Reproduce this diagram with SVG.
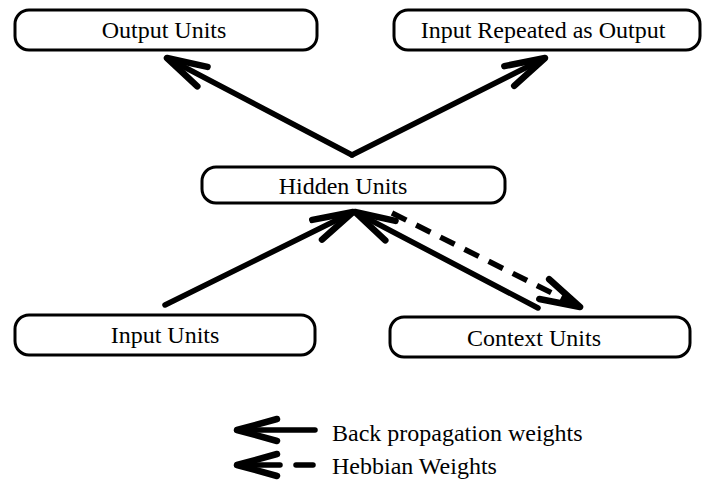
<svg xmlns="http://www.w3.org/2000/svg" width="704" height="493" viewBox="0 0 704 493">
  <defs>
    <style>
      .box { fill: #ffffff; stroke: #000000; stroke-width: 3; }
      .label { font-family: "Liberation Serif", "Times New Roman", serif; font-size: 24px; fill: #000000; text-anchor: middle; }
      .legend { font-family: "Liberation Serif", "Times New Roman", serif; font-size: 24px; fill: #000000; }
      .wire { fill: none; stroke: #000000; stroke-width: 5.5; stroke-linecap: round; }
      .dashed { stroke-dasharray: 16 11; stroke-linecap: butt; }
    </style>
    <marker id="head" markerUnits="userSpaceOnUse" markerWidth="60" markerHeight="40" viewBox="-46 -20 52 40" refX="0" refY="0" orient="auto">
      <path d="M-40,-11 L0,0 L-40,11" fill="none" stroke="#000000" stroke-width="6.5" stroke-linecap="round" stroke-linejoin="round" stroke-dasharray="none"/>
    </marker>
  </defs>

  <rect width="704" height="493" fill="#ffffff"/>

  <!-- nodes -->
  <g id="output-units">
    <rect class="box" x="15" y="10" width="302" height="40" rx="14"/>
    <text class="label" x="164" y="38">Output Units</text>
  </g>
  <g id="input-repeated">
    <rect class="box" x="394" y="10" width="306" height="40" rx="14"/>
    <text class="label" x="543" y="38">Input Repeated as Output</text>
  </g>
  <g id="hidden-units">
    <rect class="box" x="202" y="167" width="303" height="36" rx="14"/>
    <text class="label" x="343" y="194">Hidden Units</text>
  </g>
  <g id="input-units">
    <rect class="box" x="15" y="315" width="300" height="40" rx="14"/>
    <text class="label" x="165" y="343">Input Units</text>
  </g>
  <g id="context-units">
    <rect class="box" x="390" y="317" width="300" height="40" rx="14"/>
    <text class="label" x="534" y="346">Context Units</text>
  </g>

  <!-- connectors -->
  <g id="connectors">
    <path class="wire" d="M352,155 L167,58" marker-end="url(#head)"/>
    <path class="wire" d="M352,155 L545,58" marker-end="url(#head)"/>
    <path class="wire" d="M165,305 L353,212" marker-end="url(#head)"/>
    <path class="wire" d="M538,308 L355,212" marker-end="url(#head)"/>
    <path class="wire dashed" d="M392,213 L580,307" marker-end="url(#head)"/>
  </g>

  <!-- legend -->
  <g id="legend">
    <path class="wire" d="M315,430 L237,430" marker-end="url(#head)"/>
    <text class="legend" x="332" y="441">Back propagation weights</text>
    <path class="wire" d="M280,465 L237,465" marker-end="url(#head)"/>
    <path class="wire" d="M296,465 L313,465"/>
    <text class="legend" x="332" y="474">Hebbian Weights</text>
  </g>
</svg>
